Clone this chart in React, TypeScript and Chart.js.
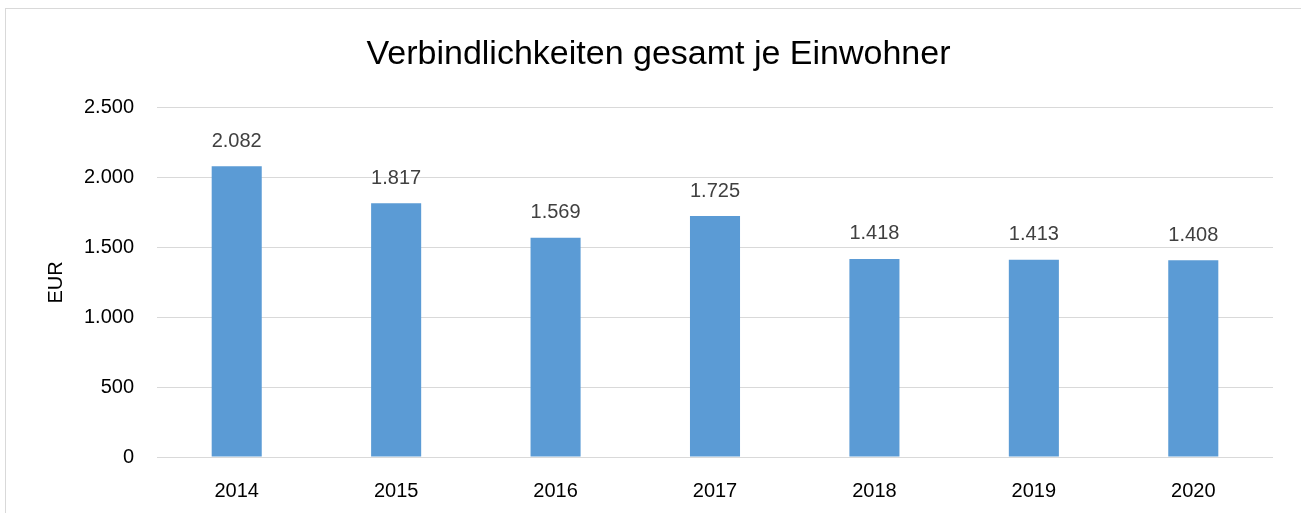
import React, { useEffect, useRef } from "react";
import { Chart, registerables } from "chart.js";

Chart.register(...registerables);

const categories = ["2014", "2015", "2016", "2017", "2018", "2019", "2020"];
const values = [2082, 1817, 1569, 1725, 1418, 1413, 1408];
const yTicks = [0, 500, 1000, 1500, 2000, 2500];
const title = "Verbindlichkeiten gesamt je Einwohner";
const yTitle = "EUR";

const FONT = "'Liberation Sans', Arial, sans-serif";

function fmt(v: number): string {
  const s = Math.round(v).toString();
  return s.replace(/\B(?=(\d{3})+(?!\d))/g, ".");
}

const labelPlugin = {
  id: "barLabels",
  afterDatasetsDraw(chart: any) {
    const ctx = chart.ctx;
    const meta = chart.getDatasetMeta(0);
    ctx.save();
    ctx.font = `20px ${FONT}`;
    ctx.fillStyle = "#404040";
    ctx.textAlign = "center";
    ctx.textBaseline = "middle";
    meta.data.forEach((bar: any, i: number) => {
      ctx.fillText(fmt(values[i]), bar.x, bar.y - 25);
    });
    ctx.restore();
  },
};

export default function App() {
  const ref = useRef<HTMLCanvasElement>(null);
  useEffect(() => {
    document.body.style.margin = "0";
    const chart = new Chart(ref.current!, {
      type: "bar",
      data: {
        labels: categories,
        datasets: [
          {
            data: values,
            backgroundColor: "#5b9bd5",
            borderWidth: 0,
            barPercentage: 1,
            categoryPercentage: 0.314,
          },
        ],
      },
      options: {
        animation: false,
        responsive: false,
        maintainAspectRatio: false,
        layout: { padding: { left: 44, right: 28, top: 34, bottom: 0 } },
        plugins: {
          legend: { display: false },
          tooltip: { enabled: false },
          title: {
            display: true,
            text: title,
            color: "#000",
            font: { family: FONT, size: 34, weight: "normal" },
            padding: { top: 0, bottom: 33 },
          },
        },
        scales: {
          x: {
            grid: { display: false },
            border: { display: false },
            ticks: {
              color: "#000",
              font: { family: FONT, size: 20 },
              padding: 14,
              maxRotation: 0,
            },
            afterFit: (s: any) => {
              s.height = 56;
            },
          },
          y: {
            min: 0,
            max: 2500,
            afterBuildTicks: (s: any) => {
              s.ticks = yTicks.map((v) => ({ value: v }));
            },
            grid: { color: "#d9d9d9", lineWidth: 1, drawTicks: false },
            border: { display: false },
            ticks: {
              color: "#000",
              font: { family: FONT, size: 20 },
              padding: 23,
              callback: (v: any) => fmt(Number(v)),
            },
            title: {
              display: true,
              text: yTitle,
              color: "#000",
              font: { family: FONT, size: 20 },
              padding: { top: 0, bottom: 0 },
            },
            afterFit: (s: any) => {
              s.width = 113;
            },
          },
        },
      },
      plugins: [labelPlugin],
    } as any);
    return () => chart.destroy();
  }, []);
  return (
    <div style={{ position: "relative", width: 1301, height: 513, overflow: "hidden", background: "#fff" }}>
      <div
        style={{
          position: "absolute",
          left: 5,
          top: 8,
          width: 1310,
          height: 520,
          border: "1px solid #d9d9d9",
          boxSizing: "border-box",
        }}
      />
      <canvas ref={ref} width={1301} height={513} style={{ position: "absolute", left: 0, top: 0, display: "block" }} />
    </div>
  );
}
